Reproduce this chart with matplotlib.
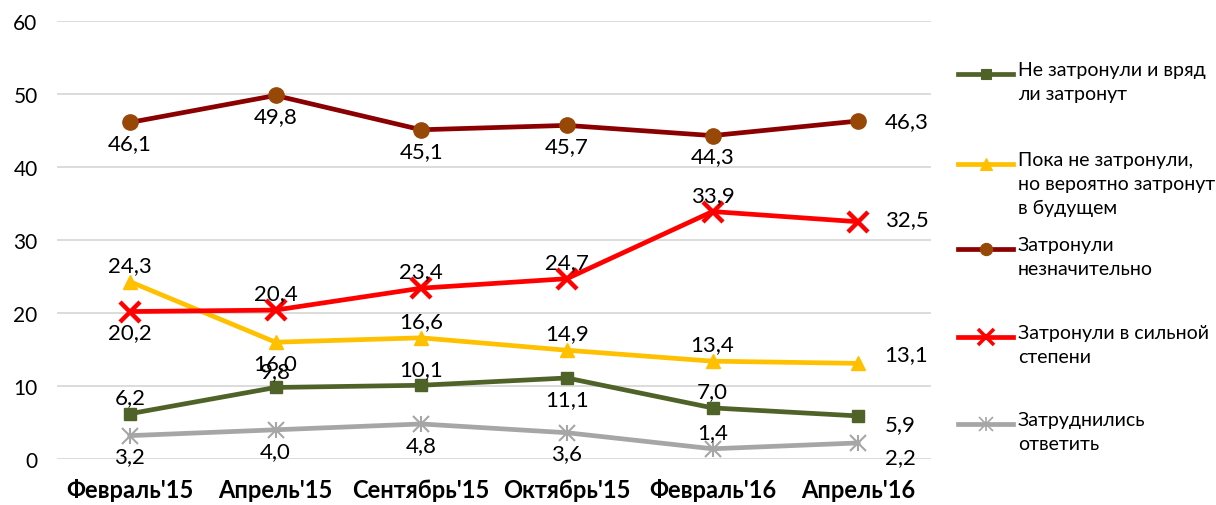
import matplotlib
matplotlib.use("Agg")
import matplotlib.pyplot as plt
from matplotlib.lines import Line2D

plt.rcParams['font.family'] = ['Lato', 'DejaVu Sans']

categories = ["Февраль'15", "Апрель'15", "Сентябрь'15", "Октябрь'15", "Февраль'16", "Апрель'16"]
s_not_affected = [6.2, 9.8, 10.1, 11.1, 7.0, 5.9]
s_future = [24.3, 16.0, 16.6, 14.9, 13.4, 13.1]
s_slight = [46.1, 49.8, 45.1, 45.7, 44.3, 46.3]
s_strong = [20.2, 20.4, 23.4, 24.7, 33.9, 32.5]
s_hard = [3.2, 4.0, 4.8, 3.6, 1.4, 2.2]
legend_labels = ["Не затронули и вряд\nли затронут",
                 "Пока не затронули,\nно вероятно затронут\nв будущем",
                 "Затронули\nнезначительно",
                 "Затронули в сильной\nстепени",
                 "Затруднились\nответить"]
yticks = [0, 10, 20, 30, 40, 50, 60]

# label placement: 'a' above, 'b' below, 'r' right (with vertical shift in points)
pos_not_affected = ['a', 'a', 'a', 'b', 'a', ('r', -6)]
pos_future = ['a', 'b', 'a', 'a', 'a', ('r', 7)]
pos_slight = ['b', 'b', 'b', 'b', 'b', ('r', 0)]
pos_strong = ['b', 'a', 'a', 'a', 'a', ('r', 2)]
pos_hard = ['b', 'b', 'b', 'b', 'a', ('r', -10)]

fig = plt.figure(figsize=(12.16, 5.06), dpi=100)
ax = fig.add_axes([57/1216, 46/506, 874/1216, 438/506])
x = list(range(len(categories)))

series = [
    (s_not_affected, dict(color='#4F6228', marker='s', ms=9, mfc='#4F6228', mec='#4F6228'), pos_not_affected),
    (s_future, dict(color='#FFC000', marker='^', ms=10, mfc='#FFC000', mec='#FFC000'), pos_future),
    (s_slight, dict(color='#8B0000', marker='o', ms=11, mfc='#974806', mec='#974806'), pos_slight),
    (s_strong, dict(color='#FF0000', marker='x', ms=14, mew=3.2, mec='#FF0000'), pos_strong),
    (s_hard, dict(color='#A6A6A6', marker='x', ms=12, mew=1.5, mec='#A6A6A6'), pos_hard),
]

FS = 16
for vals, st, pos in series:
    ax.plot(x, vals, lw=3.4, zorder=3, **st)
    for xi, v, p in zip(x, vals, pos):
        txt = f"{v:.1f}".replace('.', ',')
        if p == 'a':
            ax.annotate(txt, (xi, v), xytext=(0, 12), textcoords='offset points',
                        ha='center', va='center', fontsize=FS, color='#000000', zorder=4)
        elif p == 'b':
            ax.annotate(txt, (xi, v), xytext=(0, -15), textcoords='offset points',
                        ha='center', va='center', fontsize=FS, color='#000000', zorder=4)
        else:
            ax.annotate(txt, (xi, v), xytext=(19, p[1]), textcoords='offset points',
                        ha='left', va='center', fontsize=FS, color='#000000', zorder=4)
# star vertical strokes for grey series
ax.plot(x, s_hard, ls='none', marker='|', ms=12, mew=1.5, mec='#A6A6A6', zorder=3)

ax.set_xlim(-0.5, len(categories) - 0.5)
ax.set_ylim(0, 60)
ax.set_yticks(yticks)
ax.set_yticklabels([str(t) for t in yticks], fontsize=15)
ax.set_xticks(x)
ax.set_xticklabels(categories, fontsize=17, fontweight='bold')
ax.tick_params(axis='both', length=0)
ax.tick_params(axis='y', pad=14)
ax.tick_params(axis='x', pad=14)
ax.grid(axis='y', color='#D9D9D9', lw=1.3, zorder=0)
for s in ax.spines.values():
    s.set_visible(False)
ax.set_axisbelow(True)

# manual legend
leg_y = [75, 165, 250, 338, 425]
for (vals, st, pos), lab, yy in zip(series, legend_labels, leg_y):
    yf = 1 - yy / 506
    ln = Line2D([958/1216, 1013/1216], [yf, yf], transform=fig.transFigure, lw=3.4,
                color=st['color'])
    fig.add_artist(ln)
    mk = Line2D([985.5/1216], [yf], transform=fig.transFigure, ls='none',
                marker=st['marker'], ms=st['ms'] * 0.8, mew=st.get('mew', 1) * 0.8,
                mfc=st.get('mfc', st['color']), mec=st.get('mec', st['color']))
    fig.add_artist(mk)
    if st['color'] == '#A6A6A6':
        fig.add_artist(Line2D([985.5/1216], [yf], transform=fig.transFigure, ls='none',
                              marker='|', ms=st['ms'] * 0.8, mew=1.2, mec=st['color']))
    fig.text(1018/1216, 1 - (yy - 13) / 506, lab, ha='left', va='top', fontsize=14,
             linespacing=1.5, color='#000000')

fig.savefig('out.png', dpi=100)
